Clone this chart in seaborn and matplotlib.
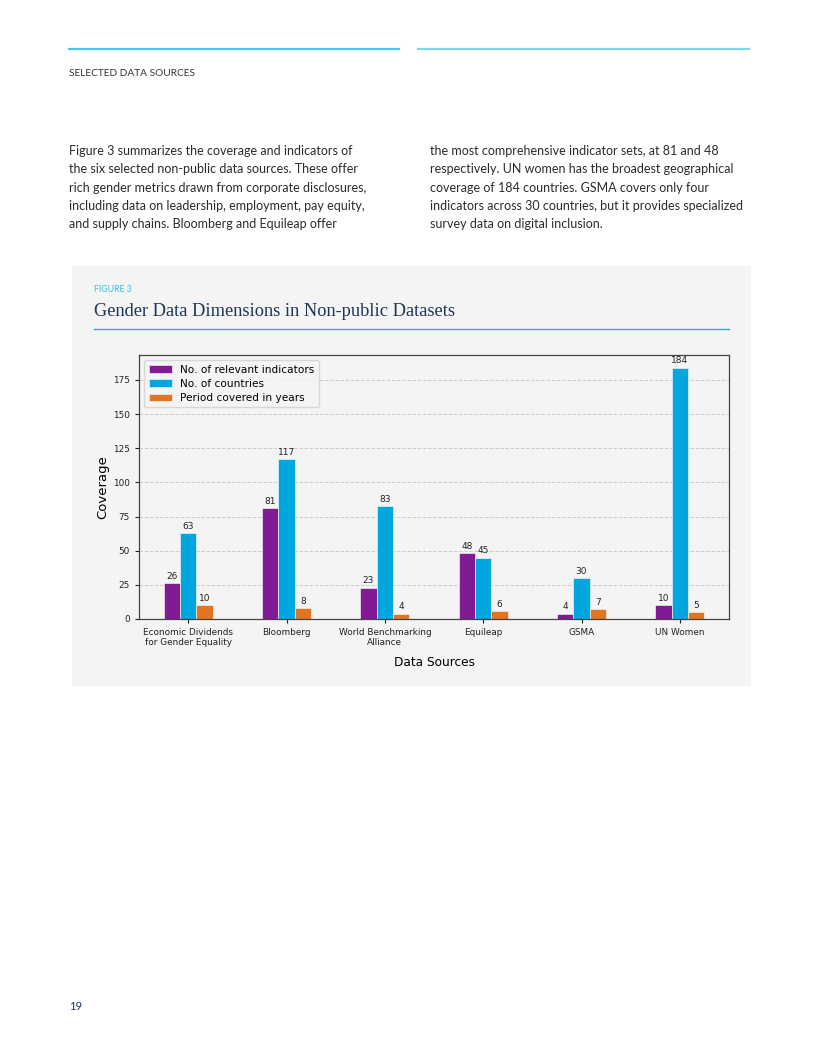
import numpy as np
import pandas as pd
import seaborn as sns
import matplotlib.pyplot as plt
from matplotlib.lines import Line2D

# datos
fuentes = ['Economic Dividends\nfor Gender Equality', 'Bloomberg', 'World Benchmarking\nAlliance',
           'Equileap', 'GSMA', 'UN Women']
indicadores = [26, 81, 23, 48, 4, 10]
paises = [63, 117, 83, 45, 30, 184]
anios = [10, 8, 4, 6, 7, 5]
series = ['No. of relevant indicators', 'No. of countries', 'Period covered in years']
colores = ['#801b93', '#00a7de', '#e17524']

texto_izq = ["Figure 3 summarizes the coverage and indicators of",
             "the six selected non-public data sources. These offer",
             "rich gender metrics drawn from corporate disclosures,",
             "including data on leadership, employment, pay equity,",
             "and supply chains. Bloomberg and Equileap offer"]
texto_der = ["the most comprehensive indicator sets, at 81 and 48",
             "respectively. UN women has the broadest geographical",
             "coverage of 184 countries. GSMA covers only four",
             "indicators across 30 countries, but it provides specialized",
             "survey data on digital inclusion."]

W, H = 818, 1058
fig = plt.figure(figsize=(W / 100, H / 100), dpi=100)
fig.patch.set_facecolor('white')

def fx(px):
    return px / W

def fy(py):
    return 1 - py / H

azul = '#4cc4ea'
navy = '#1d3557'

# lineas de cabecera
fig.add_artist(Line2D([fx(69), fx(399)], [fy(49), fy(49)], color=azul, lw=1.6))
fig.add_artist(Line2D([fx(418), fx(749)], [fy(49), fy(49)], color='#7fd3ef', lw=1.6))
fig.text(fx(69), fy(73), 'SELECTED DATA SOURCES', fontsize=7.3, family='Lato', color='#333333', va='center')

for i, linea in enumerate(texto_izq):
    fig.text(fx(69), fy(151 + i * 18.3), linea, fontsize=9.0, family='Lato', color='#2b2b2b', va='center')
for i, linea in enumerate(texto_der):
    fig.text(fx(430), fy(151 + i * 18.3), linea, fontsize=9.0, family='Lato', color='#2b2b2b', va='center')

fig.text(fx(69), fy(1007), '19', fontsize=8, family='Lato', color=navy, va='center')

# panel gris
fondo = plt.Rectangle((fx(72), fy(686)), fx(751) - fx(72), fy(266) - fy(686),
                      transform=fig.transFigure, facecolor='#f4f4f4', edgecolor='none', zorder=0)
fig.add_artist(fondo)
fig.text(fx(94), fy(289), 'FIGURE 3', fontsize=6.3, family='Lato', color='#3fbde8', va='center')
fig.text(fx(94), fy(312), 'Gender Data Dimensions in Non-public Datasets', fontsize=13.2,
         family='Liberation Serif', color=navy, va='center')
fig.add_artist(Line2D([fx(94), fx(729)], [fy(329), fy(329)], color='#3aa7d8', lw=1.0))

# grafico
df = pd.DataFrame({'Data Sources': fuentes * 3,
                   'Coverage': indicadores + paises + anios,
                   'serie': [series[0]] * 6 + [series[1]] * 6 + [series[2]] * 6})

ax = fig.add_axes([fx(139), fy(619), fx(729) - fx(139), fy(355) - fy(619)])
ax.set_facecolor('#f4f4f4')
sns.barplot(data=df, x='Data Sources', y='Coverage', hue='serie', palette=colores,
            width=0.5, edgecolor='white', linewidth=0.4, saturation=1, ax=ax)

for cont in ax.containers:
    ax.bar_label(cont, padding=1.5, fontsize=6.5, color='#222222')

ax.set_xlim(-0.5, 5.5)
ax.set_ylim(0, max(paises) * 1.05)
ax.set_yticks(np.arange(0, 176, 25))
ax.set_axisbelow(True)
ax.yaxis.grid(True, linestyle='--', color='#cccccc', lw=0.7)
ax.tick_params(labelsize=6.4, colors='#222222', length=3)
ax.set_xlabel('Data Sources', fontsize=8.7, labelpad=6)
ax.set_ylabel('Coverage', fontsize=9.5, labelpad=3)
for s in ax.spines.values():
    s.set_color('#444444')
    s.set_linewidth(0.9)

ax.legend(loc='upper left', fontsize=7.6, title=None, frameon=True, facecolor='#f4f4f4',
          edgecolor='#d0d0d0', borderpad=0.4, handlelength=2.2, labelspacing=0.4)

fig.savefig('out.png', dpi=100, facecolor='white')
